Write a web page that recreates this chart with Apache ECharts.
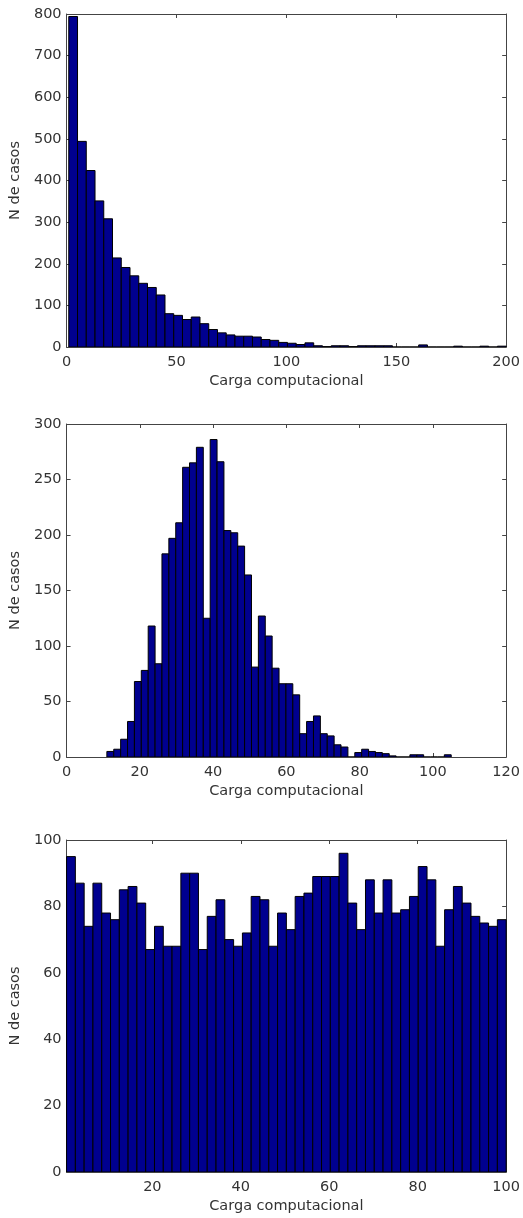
<!DOCTYPE html>
<html>
<head>
<meta charset="utf-8">
<script src="https://cdn.jsdelivr.net/npm/echarts@6/dist/echarts.min.js"></script>
<style>
  html, body { margin: 0; padding: 0; background: #fff; }
  #chart { width: 523px; height: 1218px; }
</style>
</head>
<body>
<div id="chart"></div>
<script>
// ---------- DATA ----------
const xTitle = 'Carga computacional';
const yTitle = 'N de casos';

// Panel 1: 50 bins from 1 to 200
const hist1Range = [1, 200];
const hist1Counts = [794, 494, 424, 351, 308, 214, 191, 171, 153, 143,
                     125, 80, 76, 66, 72, 56, 42, 34, 29, 26,
                     26, 24, 18, 16, 11, 9, 6, 10, 3, 1,
                     3, 3, 1, 3, 3, 3, 3, 0, 0, 0,
                     5, 0, 0, 0, 2, 0, 0, 2, 0, 2];
const xTicks1 = [0, 50, 100, 150, 200];
const yTicks1 = [0, 100, 200, 300, 400, 500, 600, 700, 800];

// Panel 2: 50 bins from 11 to 105
const hist2Range = [11, 105];
const hist2Counts = [5, 7, 16, 32, 68, 78, 118, 84, 183, 197,
                     211, 261, 265, 279, 125, 286, 266, 204, 202, 190,
                     164, 81, 127, 109, 80, 66, 66, 56, 21, 32,
                     37, 21, 19, 11, 9, 0, 4, 7, 5, 4,
                     3, 1, 0, 0, 2, 2, 0, 0, 0, 2];
const xTicks2 = [0, 20, 40, 60, 80, 100, 120];
const yTicks2 = [0, 50, 100, 150, 200, 250, 300];

// Panel 3: 50 bins from 0.6 to 100
const hist3Range = [0.6, 100];
const hist3Counts = [95, 87, 74, 87, 78, 76, 85, 86, 81, 67,
                     74, 68, 68, 90, 90, 67, 77, 82, 70, 68,
                     72, 83, 82, 68, 78, 73, 83, 84, 89, 89,
                     89, 96, 81, 73, 88, 78, 88, 78, 79, 83,
                     92, 88, 68, 79, 86, 81, 77, 75, 74, 76];
const xTicks3 = [20, 40, 60, 80, 100];
const yTicks3 = [0, 20, 40, 60, 80, 100];

// ---------- BUILD ----------
function binData(range, counts) {
  const n = counts.length, w = (range[1] - range[0]) / n;
  return counts.map((c, k) => [range[0] + k * w, range[0] + (k + 1) * w, c]);
}

const FONT = 'DejaVu Sans';
const FS = 14.5;
const TXT = '#333';
const AX = '#444';

const panels = [
  { range: hist1Range, counts: hist1Counts, xmin: 0, xmax: 200, xt: xTicks1, yt: yTicks1, top: 14, height: 333 },
  { range: hist2Range, counts: hist2Counts, xmin: 0, xmax: 120, xt: xTicks2, yt: yTicks2, top: 424, height: 333 },
  { range: hist3Range, counts: hist3Counts, xmin: 0.6, xmax: 100, xt: xTicks3, yt: yTicks3, top: 840, height: 332 }
];

const grid = [], xAxis = [], yAxis = [], series = [];
panels.forEach((p, i) => {
  grid.push({ left: 66.5, width: 441.5, top: p.top, height: p.height });
  const lineStyle = { color: AX, width: 1 };
  const label = { color: TXT, fontFamily: FONT, fontSize: FS };
  const ymax = p.yt[p.yt.length - 1];
  // bottom x
  xAxis.push({
    gridIndex: i, type: 'value', position: 'bottom', min: p.xmin, max: p.xmax,
    axisLine: { show: true, onZero: false, lineStyle },
    axisTick: { show: true, inside: true, length: 4, lineStyle, customValues: p.xt },
    axisLabel: Object.assign({ margin: 8, customValues: p.xt }, label),
    splitLine: { show: false },
    name: xTitle, nameLocation: 'middle', nameGap: 27,
    nameTextStyle: label
  });
  // top x
  xAxis.push({
    gridIndex: i, type: 'value', position: 'top', min: p.xmin, max: p.xmax,
    axisLine: { show: true, onZero: false, lineStyle },
    axisTick: { show: true, inside: true, length: 4, lineStyle, customValues: p.xt },
    axisLabel: { show: false, customValues: p.xt },
    splitLine: { show: false }
  });
  // left y
  yAxis.push({
    gridIndex: i, type: 'value', position: 'left', min: 0, max: ymax,
    axisLine: { show: true, onZero: false, lineStyle },
    axisTick: { show: true, inside: true, length: 4, lineStyle, customValues: p.yt },
    axisLabel: Object.assign({ margin: 5, customValues: p.yt }, label),
    splitLine: { show: false },
    name: yTitle, nameLocation: 'middle', nameGap: 37, nameRotate: 90,
    nameTextStyle: label
  });
  // right y
  yAxis.push({
    gridIndex: i, type: 'value', position: 'right', min: 0, max: ymax,
    axisLine: { show: true, onZero: false, lineStyle },
    axisTick: { show: true, inside: true, length: 4, lineStyle, customValues: p.yt },
    axisLabel: { show: false, customValues: p.yt },
    splitLine: { show: false }
  });
  series.push({
    type: 'custom',
    xAxisIndex: i * 2,
    yAxisIndex: i * 2,
    clip: true,
    silent: true,
    data: binData(p.range, p.counts),
    encode: { x: [0, 1], y: 2 },
    renderItem: function (params, api) {
      const a = api.coord([api.value(0), api.value(2)]);
      const b = api.coord([api.value(1), 0]);
      return {
        type: 'rect',
        shape: { x: a[0], y: a[1], width: b[0] - a[0], height: b[1] - a[1] },
        style: { fill: '#00008f', stroke: '#000', lineWidth: 1 }
      };
    }
  });
});

const chart = echarts.init(document.getElementById('chart'), null, { renderer: 'canvas' });
chart.setOption({
  animation: false,
  backgroundColor: '#fff',
  grid, xAxis, yAxis, series
});
</script>
</body>
</html>
